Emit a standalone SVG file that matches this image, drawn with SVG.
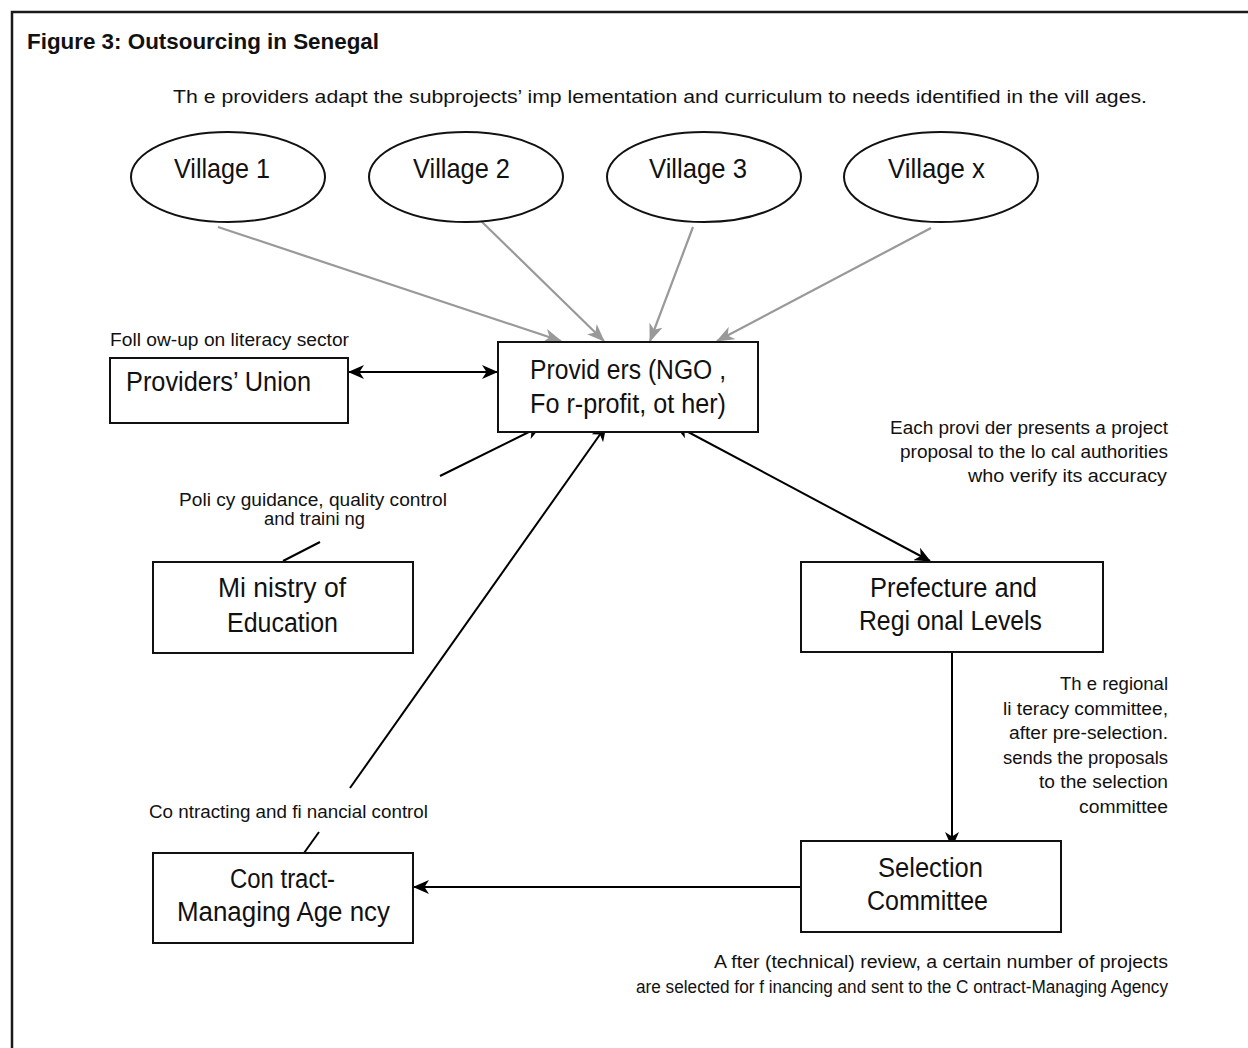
<svg xmlns="http://www.w3.org/2000/svg" width="1248" height="1048" viewBox="0 0 1248 1048">
<style>
text{font-family:'Liberation Sans Narrow','Liberation Sans',Arial,sans-serif;fill:#111;}
.t{font-size:22px;font-weight:bold;}
.s{font-size:17.5px;}
.b{font-size:27px;}
.v{font-size:28px;}
.node{fill:#fff;stroke:#111;stroke-width:2;}
.blk{stroke:#000;stroke-width:2;fill:none;}
.gry{stroke:#999;stroke-width:2.2;fill:none;}
</style>
<defs>
<marker id="ah" viewBox="0 0 16 14" refX="15" refY="7" markerWidth="16" markerHeight="14" markerUnits="userSpaceOnUse" orient="auto-start-reverse"><path d="M0,0 L16,7 L0,14 L4.5,7 z" fill="#000"/></marker>
<marker id="ag" viewBox="0 0 18 14" refX="17" refY="7" markerWidth="18" markerHeight="14" markerUnits="userSpaceOnUse" orient="auto"><path d="M0,0 L18,7 L0,14 L5,7 z" fill="#999"/></marker>
</defs>
<rect x="12" y="12" width="1260" height="1060" fill="#fff" stroke="#1a1a1a" stroke-width="2.5"/>
<text class="t" x="27" y="49" textLength="352" lengthAdjust="spacingAndGlyphs">Figure 3: Outsourcing in Senegal</text>
<text class="s" x="173" y="103" textLength="974" lengthAdjust="spacingAndGlyphs">Th e providers adapt the subprojects’ imp lementation and curriculum to needs identified in the vill ages.</text>

<g id="connectors">
<line class="gry" x1="218" y1="227" x2="561" y2="341" marker-end="url(#ag)"/>
<line class="gry" x1="480" y1="220" x2="604" y2="341" marker-end="url(#ag)"/>
<line class="gry" x1="693" y1="227" x2="650" y2="341" marker-end="url(#ag)"/>
<line class="gry" x1="931" y1="228" x2="717" y2="341" marker-end="url(#ag)"/>
<line class="blk" x1="349" y1="372" x2="497" y2="372" marker-start="url(#ah)" marker-end="url(#ah)"/>
<line class="blk" x1="283" y1="561" x2="320" y2="542"/>
<line class="blk" x1="440" y1="476" x2="541" y2="426" marker-end="url(#ah)"/>
<line class="blk" x1="304" y1="853" x2="319" y2="832"/>
<line class="blk" x1="350" y1="788" x2="606" y2="426" marker-end="url(#ah)"/>
<line class="blk" x1="675" y1="425" x2="930" y2="561" marker-start="url(#ah)" marker-end="url(#ah)"/>
<line class="blk" x1="952" y1="652" x2="952" y2="847" marker-end="url(#ah)"/>
<line class="blk" x1="801" y1="887" x2="414" y2="887" marker-end="url(#ah)"/>
</g>

<g id="village1"><ellipse class="node" cx="228" cy="177" rx="97" ry="45"/><text class="v" x="174" y="178" textLength="96" lengthAdjust="spacingAndGlyphs">Village 1</text></g>
<g id="village2"><ellipse class="node" cx="466" cy="177" rx="97" ry="45"/><text class="v" x="413" y="178" textLength="97" lengthAdjust="spacingAndGlyphs">Village 2</text></g>
<g id="village3"><ellipse class="node" cx="704" cy="177" rx="97" ry="45"/><text class="v" x="649" y="178" textLength="98" lengthAdjust="spacingAndGlyphs">Village 3</text></g>
<g id="villagex"><ellipse class="node" cx="941" cy="177" rx="97" ry="45"/><text class="v" x="888" y="178" textLength="97" lengthAdjust="spacingAndGlyphs">Village x</text></g>

<g id="providers-union">
<text class="s" x="110" y="346" textLength="239" lengthAdjust="spacingAndGlyphs">Foll ow-up on literacy sector</text>
<rect class="node" x="110" y="358" width="238" height="65"/>
<text class="b" x="126" y="391" textLength="185" lengthAdjust="spacingAndGlyphs">Providers’ Union</text>
</g>

<g id="providers">
<rect class="node" x="498" y="342" width="260" height="90"/>
<text class="b" x="530" y="379" textLength="196" lengthAdjust="spacingAndGlyphs">Provid ers (NGO ,</text>
<text class="b" x="530" y="413" textLength="196" lengthAdjust="spacingAndGlyphs">Fo r-profit, ot her)</text>
</g>

<g id="label-proposal">
<text class="s" x="890" y="434" textLength="278" lengthAdjust="spacingAndGlyphs">Each provi der presents a project</text>
<text class="s" x="900" y="458" textLength="268" lengthAdjust="spacingAndGlyphs">proposal to the lo cal authorities</text>
<text class="s" x="968" y="482" textLength="199" lengthAdjust="spacingAndGlyphs">who verify its accuracy</text>
</g>

<g id="label-policy">
<text class="s" x="179" y="506" textLength="268" lengthAdjust="spacingAndGlyphs">Poli cy guidance, quality control</text>
<text class="s" x="264" y="525" textLength="101" lengthAdjust="spacingAndGlyphs">and traini ng</text>
</g>

<g id="ministry">
<rect class="node" x="153" y="562" width="260" height="91"/>
<text class="b" x="218" y="597" textLength="128" lengthAdjust="spacingAndGlyphs">Mi nistry of</text>
<text class="b" x="227" y="632" textLength="111" lengthAdjust="spacingAndGlyphs">Education</text>
</g>

<g id="prefecture">
<rect class="node" x="801" y="562" width="302" height="90"/>
<text class="b" x="870" y="597" textLength="167" lengthAdjust="spacingAndGlyphs">Prefecture and</text>
<text class="b" x="859" y="630" textLength="183" lengthAdjust="spacingAndGlyphs">Regi onal Levels</text>
</g>

<g id="label-regional">
<text class="s" x="1060" y="690" textLength="108" lengthAdjust="spacingAndGlyphs">Th e regional</text>
<text class="s" x="1003" y="715" textLength="165" lengthAdjust="spacingAndGlyphs">li teracy committee,</text>
<text class="s" x="1009" y="739" textLength="159" lengthAdjust="spacingAndGlyphs">after pre-selection.</text>
<text class="s" x="1003" y="764" textLength="165" lengthAdjust="spacingAndGlyphs">sends the proposals</text>
<text class="s" x="1039" y="788" textLength="129" lengthAdjust="spacingAndGlyphs">to the selection</text>
<text class="s" x="1079" y="813" textLength="89" lengthAdjust="spacingAndGlyphs">committee</text>
</g>

<g id="label-contracting">
<text class="s" x="149" y="818" textLength="279" lengthAdjust="spacingAndGlyphs">Co ntracting and fi nancial control</text>
</g>

<g id="contract-agency">
<rect class="node" x="153" y="853" width="260" height="90"/>
<text class="b" x="230" y="888" textLength="105" lengthAdjust="spacingAndGlyphs">Con tract-</text>
<text class="b" x="177" y="921" textLength="213" lengthAdjust="spacingAndGlyphs">Managing Age ncy</text>
</g>

<g id="selection">
<rect class="node" x="801" y="841" width="260" height="91"/>
<text class="b" x="878" y="877" textLength="105" lengthAdjust="spacingAndGlyphs">Selection</text>
<text class="b" x="867" y="910" textLength="121" lengthAdjust="spacingAndGlyphs">Committee</text>
</g>

<g id="label-selected">
<text class="s" x="714" y="968" textLength="454" lengthAdjust="spacingAndGlyphs">A fter (technical) review, a certain number of projects</text>
<text class="s" x="636" y="993" textLength="532" lengthAdjust="spacingAndGlyphs">are selected for f inancing and sent to the C ontract-Managing Agency</text>
</g>
</svg>
